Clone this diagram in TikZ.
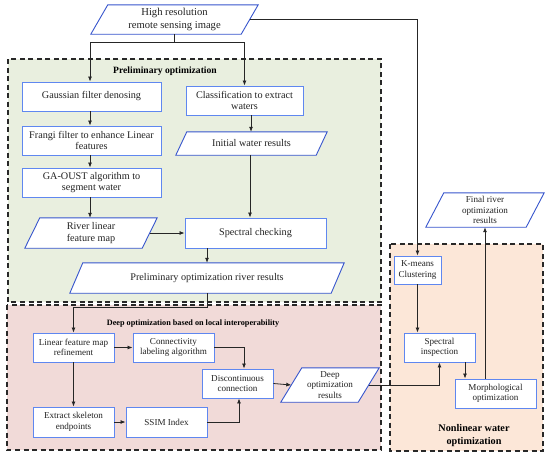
\documentclass[tikz,border=0pt]{standalone}
\usepackage{fontspec}
\setmainfont{Liberation Serif}
\usetikzlibrary{arrows.meta}
\definecolor{rectblue}{RGB}{95,135,240}
\definecolor{parablue}{RGB}{55,85,205}
\definecolor{greenbg}{RGB}{233,239,223}
\definecolor{pinkbg}{RGB}{241,218,216}
\definecolor{orangebg}{RGB}{252,231,216}
\definecolor{txt}{RGB}{35,35,35}
\definecolor{regionline}{RGB}{40,40,40}
\pgfdeclarelayer{regions}
\pgfdeclarelayer{paralayer}
\pgfsetlayers{regions,paralayer,main}
\tikzset{
  box/.style={draw=rectblue, line width=0.9pt, fill=white, rectangle, align=center, inner sep=1pt, text=txt, font=\fontsize{10.2}{11.6}\selectfont},
  smallbox/.style={box, font=\fontsize{9.1}{10.6}\selectfont},
  para/.style={rectangle, align=center, inner sep=0pt, text=txt, font=\fontsize{10.2}{11.6}\selectfont},
  smallpara/.style={para, font=\fontsize{9.1}{10.6}\selectfont},
  paraline/.style={draw=parablue, line width=0.9pt, fill=white},
  region/.style={draw=regionline, line width=1.1pt, dash pattern=on 5pt off 3.5pt},
  arr/.style={draw=black!85, line width=0.8pt, -{Latex[length=5pt,width=4pt]}},
  ln/.style={draw=black!85, line width=0.8pt},
  rtitle/.style={font=\fontsize{9.6}{11}\selectfont\bfseries, text=black, align=center},
}
\newcommand\myparaframe[2]{%
  \begin{pgfonlayer}{paralayer}
    \draw[paraline] ([xshift=-#2]#1.south west) -- ([xshift=#2]#1.north west) -- ([xshift=#2]#1.north east) -- ([xshift=-#2]#1.south east) -- cycle;
  \end{pgfonlayer}}
\begin{document}
\begin{tikzpicture}[x=1pt,y=-1pt]
\useasboundingbox (0,0) rectangle (550,459);
% regions
\begin{pgfonlayer}{regions}
\draw[region, fill=greenbg] (8,59) rectangle (381,302);
\draw[region, fill=pinkbg] (7,305) rectangle (381,450);
\draw[region, fill=orangebg] (390,244) rectangle (543,451);
\end{pgfonlayer}
\node[rtitle] (t1) at (165,71) {Preliminary optimization};
\node[rtitle, font=\fontsize{8.2}{10}\selectfont\bfseries] (t2) at (193,324) {Deep optimization based on local interoperability};
\node[rtitle, font=\fontsize{10.2}{13}\selectfont\bfseries] (t3) at (474,436) {Nonlinear water\\optimization};

% nodes
\node[para, font=\fontsize{10.6}{12.2}\selectfont, minimum width=150, minimum height=29] (top) at (174.5,19.5) {High resolution\\remote sensing image};
\myparaframe{top}{8.5}
\node[box, minimum width=139, minimum height=29] (gauss) at (91.5,96.5) {Gaussian filter denosing};
\node[box, minimum width=117, minimum height=29] (cls) at (244.5,100.5) {Classification to extract\\waters};
\node[box, minimum width=139, minimum height=29] (frangi) at (91.5,140.5) {Frangi filter to enhance Linear\\features};
\node[para, minimum width=140, minimum height=23] (init) at (251.5,143.5) {Initial water results};
\myparaframe{init}{5.5}
\node[box, minimum width=139, minimum height=29] (ga) at (91.5,182.5) {GA-OUST algorithm to\\segment water};
\node[para, minimum width=117, minimum height=30] (river) at (91,233) {River linear\\feature map};
\myparaframe{river}{7.5}
\node[box, minimum width=141, minimum height=30] (spec) at (255.5,233) {Spectral checking};
\node[para, minimum width=261, minimum height=30] (prelim) at (207,278) {Preliminary optimization river results};
\myparaframe{prelim}{6.5}

\node[smallbox, minimum width=81, minimum height=29] (linear) at (73.5,347.5) {Linear feature map\\refinement};
\node[smallbox, minimum width=81, minimum height=29] (conn) at (173.5,347.5) {Connectivity\\labeling algorithm};
\node[smallbox, minimum width=71, minimum height=29] (disc) at (237.5,383.5) {Discontinuous\\connection};
\node[smallbox, minimum width=81, minimum height=30] (extract) at (73.5,422) {Extract skeleton\\endpoints};
\node[smallbox, minimum width=81, minimum height=30] (ssim) at (166.5,422) {SSIM Index};
\node[smallpara, minimum width=77, minimum height=34] (deep) at (330,385) {Deep\\optimization\\results};
\myparaframe{deep}{10.5}

\node[smallbox, minimum width=47, minimum height=28] (kmeans) at (417.5,270) {K-means\\Clustering};
\node[smallbox, minimum width=71, minimum height=29] (insp) at (439.5,347.5) {Spectral\\inspection};
\node[smallbox, minimum width=81, minimum height=29] (morph) at (495.5,393.5) {Morphological\\optimization};
\node[smallpara, minimum width=100, minimum height=34] (final) at (485,210) {Final river\\optimization\\results};
\myparaframe{final}{9}

% connectors
\coordinate (j1) at ([yshift=-8]top.south);
\draw[ln] (top.south) -- (j1);
\draw[arr] (j1) -| ([xshift=-1.5]gauss.north);
\draw[arr] (j1) -| (cls.north);
\draw[arr] (top.east) -| (kmeans.north);
\draw[arr] ([xshift=-1.5]gauss.south) -- ([xshift=-1.5]frangi.north);
\draw[arr] ([xshift=-1.5]frangi.south) -- ([xshift=-1.5]ga.north);
\draw[arr] ([xshift=-1.5]ga.south) -- ([xshift=-1]river.north);
\draw[arr] ([xshift=6.5]cls.south) -- ([xshift=6.5]cls.south |- init.north);
\draw[arr] ([xshift=-1.5]init.south) -- ([xshift=-1.5]init.south |- spec.north);
\draw[arr] (river.east) -- (spec.west);
\draw[arr] (prelim.north |- spec.south) -- (prelim.north);
\draw[arr] (prelim.south) -- ++(0,14) -| (linear.north);
\draw[arr] (linear.east) -- (conn.west);
\draw[arr] (linear.south) -- (extract.north);
\draw[arr] (extract.east) -- (ssim.west);
\draw[arr] (conn.east) -| ([xshift=6.5]disc.north);
\draw[arr] (ssim.east) -| ([xshift=1.5]disc.south);
\draw[arr] (disc.east) -- (deep.west);
\draw[arr] (deep.east) -| (insp.south);
\draw[arr] (kmeans.south) -- (kmeans.south |- insp.north);
\draw[arr] ([xshift=25.5]insp.south) -- ([xshift=25.5]insp.south |- morph.north);
\draw[arr] (final.south |- morph.north) -- (final.south);
\end{tikzpicture}
\end{document}
